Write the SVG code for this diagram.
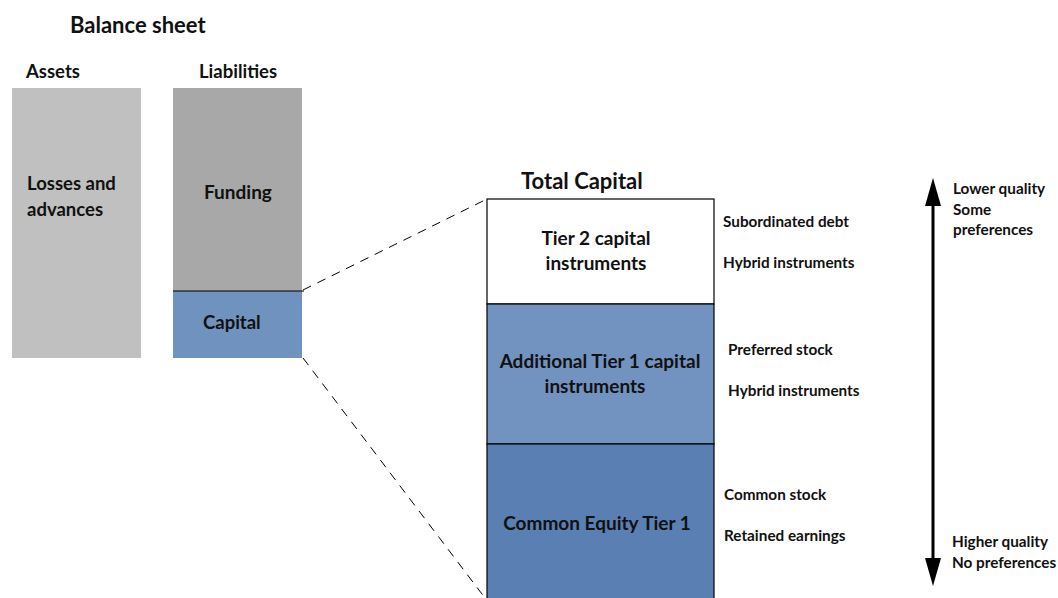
<svg xmlns="http://www.w3.org/2000/svg" width="1058" height="598" viewBox="0 0 1058 598">
<style>
text{font-family:Lato,"Open Sans","Liberation Sans",sans-serif;font-weight:bold;fill:#111}
.h1{font-size:22px}
.h2{font-size:18.5px}
.lbl{font-size:19px}
.sm{font-size:15.3px}
.c{text-anchor:middle}
</style>
<rect width="1058" height="598" fill="#fff"/>
<text class="h1" x="70" y="33">Balance sheet</text>
<text class="h2" x="26" y="78">Assets</text>
<text class="h2" x="199" y="78">Liabilities</text>
<g id="assets">
<rect x="12" y="88" width="129" height="270" fill="#c0c0c0"/>
<text class="h2" x="27" y="190">Losses and</text>
<text class="h2" x="27" y="216">advances</text>
</g>
<g id="funding">
<rect x="173" y="88" width="129" height="203" fill="#a8a8a8"/>
<text class="lbl" x="204" y="199">Funding</text>
</g>
<g id="capital">
<rect x="173" y="291" width="129" height="67" fill="#7092be"/>
<line x1="173" y1="291" x2="304" y2="291" stroke="#000" stroke-width="1.2"/>
<text class="h2" x="203" y="329">Capital</text>
</g>
<g id="connectors" stroke="#000" stroke-width="1" stroke-dasharray="9,7" fill="none">
<line x1="303" y1="290" x2="487" y2="199"/>
<line x1="303" y1="358" x2="485" y2="598"/>
<g id="quality-arrow" stroke-dasharray="none">
<line x1="933" y1="200" x2="933" y2="564" stroke-width="3"/>
<polygon points="933,178 925,206 941,206" fill="#000" stroke="none"/>
<polygon points="933,586 925,558 941,558" fill="#000" stroke="none"/>
</g>
</g>
<text class="h1" x="521" y="189">Total Capital</text>
<g id="tier2">
<rect x="487" y="199" width="227" height="105" fill="#fff" stroke="#000" stroke-width="1.2"/>
<text class="lbl c" x="596" y="245">Tier 2 capital</text>
<text class="lbl c" x="596" y="270">instruments</text>
</g>
<g id="at1">
<rect x="487" y="304" width="227" height="140" fill="#7293c0" stroke="#000" stroke-width="1.2"/>
<text class="lbl c" x="600" y="368">Additional Tier 1 capital</text>
<text class="lbl c" x="595" y="393">instruments</text>
</g>
<g id="cet1">
<rect x="487" y="444" width="227" height="160" fill="#5a7fb3" stroke="#000" stroke-width="1.2"/>
<text class="lbl c" x="597" y="530">Common Equity Tier 1</text>
</g>
<g id="items">
<text class="sm" x="723" y="227">Subordinated debt</text>
<text class="sm" x="723" y="268">Hybrid instruments</text>
<text class="sm" x="728" y="355">Preferred stock</text>
<text class="sm" x="728" y="396">Hybrid instruments</text>
<text class="sm" x="724" y="500">Common stock</text>
<text class="sm" x="724" y="541">Retained earnings</text>
</g>
<g id="scale">
<text class="sm" x="953" y="194">Lower quality</text>
<text class="sm" x="953" y="215">Some</text>
<text class="sm" x="953" y="235">preferences</text>
<text class="sm" x="952" y="547">Higher quality</text>
<text class="sm" x="952" y="568">No preferences</text>
</g>
</svg>
